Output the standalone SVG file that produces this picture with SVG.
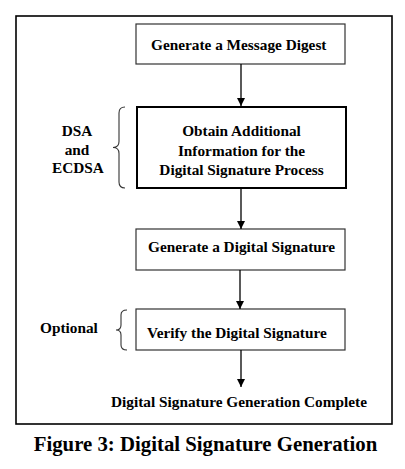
<svg xmlns="http://www.w3.org/2000/svg" width="405" height="469" viewBox="0 0 405 469">
<style>
text{font-family:"Liberation Serif","Times New Roman",serif;font-weight:bold;fill:#000;font-size:15.3px}
.c{text-anchor:middle}
.box{fill:#fff;stroke:#333;stroke-width:1.2}
.thick{fill:#fff;stroke:#000;stroke-width:2}
.conn{stroke:#000;stroke-width:1.3;fill:none}
.brace{stroke:#333;stroke-width:1.1;fill:none}
.cap{font-size:20.8px}
</style>
<defs>
<marker id="ah" viewBox="0 0 8 10" refX="8" refY="5" markerWidth="8" markerHeight="10" markerUnits="userSpaceOnUse" orient="auto">
<path d="M0,1 L8,5 L0,9 Z" fill="#000"/>
</marker>
</defs>
<rect width="405" height="469" fill="#fff"/>
<rect id="frame" x="16" y="16" width="376" height="408" fill="none" stroke="#000" stroke-width="1.6"/>
<g id="n1"><rect class="box" x="136" y="24" width="209" height="40"/><text x="151" y="49.5">Generate a Message Digest</text></g>
<g id="n2"><rect class="thick" x="137" y="107" width="209" height="81"/>
<text class="c" x="241.5" y="136">Obtain Additional</text>
<text class="c" x="241.5" y="155.5">Information for the</text>
<text class="c" x="241.5" y="175">Digital Signature Process</text></g>
<g id="n3"><rect class="box" x="136" y="229" width="209" height="41"/><text x="148" y="251.5">Generate a Digital Signature</text></g>
<g id="n4"><rect class="box" x="136" y="309" width="209" height="41"/><text x="147" y="338">Verify the Digital Signature</text></g>
<g id="n5"><text x="111" y="407">Digital Signature Generation Complete</text></g>
<g id="dsa"><path class="brace" d="M125,107 Q119,107 119,113 L119,141.5 Q119,147.5 113,147.5 Q119,147.5 119,153.5 L119,182 Q119,188 125,188"/>
<text class="c" x="77" y="136">DSA</text><text class="c" x="77" y="154.5">and</text><text class="c" x="78" y="173">ECDSA</text></g>
<g id="opt"><path class="brace" d="M127,310 Q121,310 121,315 L121,325 Q121,330 116,330 Q121,330 121,335 L121,345 Q121,350 127,350"/>
<text x="40" y="333">Optional</text></g>
<g id="connectors">
<line class="conn" x1="241" y1="64" x2="241" y2="106" marker-end="url(#ah)"/>
<line class="conn" x1="241" y1="189" x2="241" y2="229" marker-end="url(#ah)"/>
<line class="conn" x1="240" y1="270" x2="240" y2="309" marker-end="url(#ah)"/>
<line class="conn" x1="241" y1="350" x2="241" y2="387" marker-end="url(#ah)"/>
</g>
<text class="c cap" x="205.5" y="451">Figure 3: Digital Signature Generation</text>
</svg>
